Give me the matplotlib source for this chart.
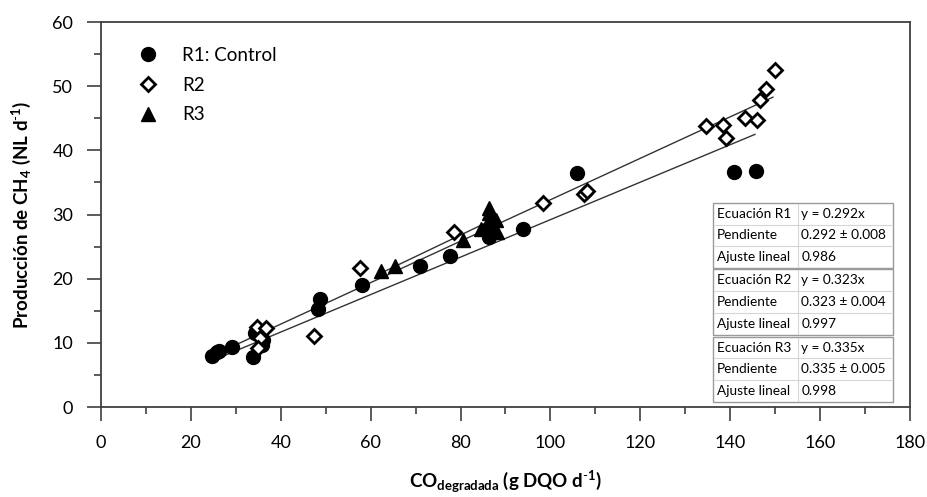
import matplotlib
matplotlib.use("Agg")
import matplotlib.pyplot as plt
from matplotlib.patches import Rectangle
from matplotlib.ticker import MultipleLocator
import numpy as np

plt.rcParams['font.family'] = ['Lato', 'DejaVu Sans']
plt.rcParams['mathtext.fontset'] = 'custom'
plt.rcParams['mathtext.rm'] = 'Lato'
plt.rcParams['mathtext.bf'] = 'Lato:bold'
plt.rcParams['mathtext.it'] = 'Lato:italic'

# ---------------- data ----------------
r1_x = [24.8, 25.8, 26.2, 29.1, 33.8, 34.3, 35.8, 36.0, 48.2, 48.7, 58.1, 71.0,
        77.6, 86.3, 86.6, 94.0, 106.0, 140.8, 145.8]
r1_y = [8.0, 8.6, 8.7, 9.4, 7.8, 11.5, 9.7, 10.4, 15.2, 16.8, 19.0, 21.9,
        23.5, 26.5, 27.3, 27.7, 36.5, 36.6, 36.8]

r2_x = [34.7, 36.8, 35.4, 34.9, 47.3, 57.7, 78.5, 98.4, 107.5, 108.2,
        134.6, 138.5, 139.1, 143.3, 146.0, 146.7, 148.0, 150.0]
r2_y = [12.5, 12.3, 10.7, 9.2, 11.1, 21.6, 27.2, 31.8, 33.2, 33.6,
        43.8, 43.9, 41.9, 45.1, 44.7, 47.9, 49.5, 52.5]

r3_x = [62.4, 65.5, 80.5, 84.5, 86.3, 86.3, 86.3, 87.8, 88.2]
r3_y = [21.2, 21.9, 26.1, 27.8, 31.0, 30.2, 29.1, 29.1, 27.3]

slopes = {'R1': 0.292, 'R2': 0.323, 'R3': 0.335}
fit_ranges = {'R1': (25, 145.5), 'R2': (25, 149.5), 'R3': (62, 88)}

labels = ['R1: Control', 'R2', 'R3']

table_rows = [
    [['Ecuación R1', 'y = 0.292x'], ['Pendiente', '0.292 ± 0.008'], ['Ajuste lineal', '0.986']],
    [['Ecuación R2', 'y = 0.323x'], ['Pendiente', '0.323 ± 0.004'], ['Ajuste lineal', '0.997']],
    [['Ecuación R3', 'y = 0.335x'], ['Pendiente', '0.335 ± 0.005'], ['Ajuste lineal', '0.998']],
]

xticks = np.arange(0, 181, 20)
yticks = np.arange(0, 61, 10)

# ---------------- figure ----------------
W, H = 928, 497
fig = plt.figure(figsize=(W / 100, H / 100), dpi=100)
ax = fig.add_axes([101 / W, 1 - 407 / H, (910 - 101) / W, (407 - 22) / H])

for key in ['R1', 'R2', 'R3']:
    x0, x1 = fit_ranges[key]
    xs = np.array([x0, x1])
    ax.plot(xs, slopes[key] * xs, color='#333333', lw=1.0, zorder=2)

ax.plot(r1_x, r1_y, 'o', color='black', ms=10, ls='none', label=labels[0], zorder=3)
ax.plot(r2_x, r2_y, 'D', mfc='white', mec='black', mew=2.0, ms=7.5, ls='none',
        label=labels[1], zorder=4)
ax.plot(r3_x, r3_y, '^', color='black', ms=10.5, ls='none', label=labels[2], zorder=3)

ax.set_xlim(0, 180)
ax.set_ylim(0, 60)
ax.set_xticks(xticks)
ax.set_yticks(yticks)
ax.xaxis.set_minor_locator(MultipleLocator(10))
ax.yaxis.set_minor_locator(MultipleLocator(5))
ax.tick_params(which='major', direction='out', length=10, width=1.2, color='#404040',
               labelsize=13, pad=10)
ax.tick_params(which='minor', direction='out', length=5, width=1.2, color='#404040')
for s in ax.spines.values():
    s.set_color('#404040')
    s.set_linewidth(1.3)

ax.set_xlabel(r'CO$_{\mathbf{degradada}}$ (g DQO d$^{\mathbf{\text{-}1}}$)', fontsize=13.5,
              fontweight='bold', labelpad=13)
ax.set_ylabel(r'Producción de CH$_{\mathbf{4}}$ (NL d$^{\mathbf{\text{-}1}}$)', fontsize=13.5,
              fontweight='bold', labelpad=14)

leg = ax.legend(loc='upper left', bbox_to_anchor=(0.035, 0.955), frameon=False,
                fontsize=13.5, handletextpad=1.2, labelspacing=0.68, handlelength=1.2,
                borderaxespad=0)

# ---------------- table ----------------
def fx(px):
    return px / W

def fy(py):
    return 1 - py / H

box_left, box_right, divider = 712.7, 892.7, 798.3
boxes = [(203.3, 267.7), (269.0, 335.0), (336.7, 401.7)]
for (top, bot), rows in zip(boxes, table_rows):
    fig.add_artist(Rectangle((fx(box_left), fy(bot)), fx(box_right - box_left),
                             (bot - top) / H, transform=fig.transFigure,
                             facecolor='white', edgecolor='#9a9a9a', lw=1.0, zorder=5))
    rh = (bot - top) / 3
    for i in range(1, 3):
        yy = fy(top + i * rh)
        fig.add_artist(plt.Line2D([fx(box_left + 2), fx(box_right - 2)], [yy, yy],
                                  transform=fig.transFigure, color='#d6d6d6', lw=0.8, zorder=6))
    fig.add_artist(plt.Line2D([fx(divider), fx(divider)], [fy(top + 1), fy(bot - 1)],
                              transform=fig.transFigure, color='#d6d6d6', lw=0.8, zorder=6))
    for i, (a, b) in enumerate(rows):
        yc = fy(top + (i + 0.5) * rh)
        fig.text(fx(box_left + 4), yc, a, fontsize=9.8, va='center', ha='left', zorder=7)
        fig.text(fx(divider + 3), yc, b, fontsize=9.8, va='center', ha='left', zorder=7)

fig.savefig('out.png', dpi=100, facecolor='white')
